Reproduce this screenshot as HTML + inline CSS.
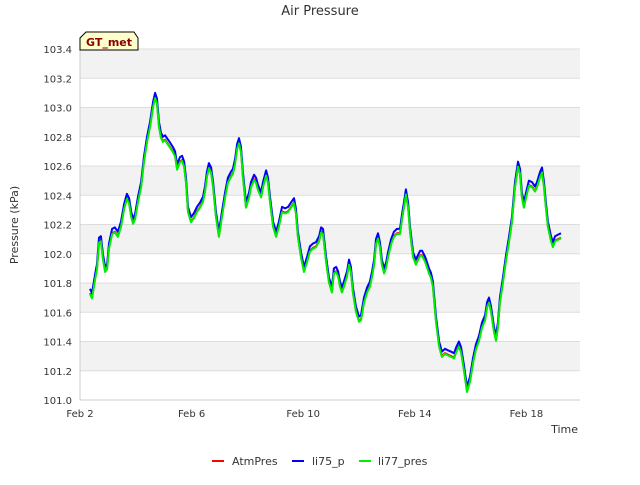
<!DOCTYPE html>
<html><head><meta charset="utf-8"><style>
body{margin:0;background:#fff;font-family:"Liberation Sans","DejaVu Sans",sans-serif;}
</style></head><body>
<svg width="640" height="480" viewBox="0 0 640 480" xmlns="http://www.w3.org/2000/svg" font-family="DejaVu Sans, Liberation Sans, sans-serif">
<text x="320" y="15" text-anchor="middle" font-size="13" fill="#333">Air Pressure</text>
<g id="bands"></g>
<g id="grid"></g>
<g id="yticks" font-size="10" fill="#333"></g>
<g id="xticks" font-size="10" fill="#333"></g>
<line x1="80" y1="49" x2="80" y2="400" stroke="#ccc"/>
<line x1="80" y1="400" x2="580" y2="400" stroke="#ccc"/>
<g id="series" fill="none" stroke-width="2" stroke-linejoin="round"></g>
<text x="18" y="225" transform="rotate(-90 18 225)" text-anchor="middle" font-size="11" fill="#333">Pressure (kPa)</text>
<text x="578" y="433" text-anchor="end" font-size="11" fill="#333">Time</text>
<g>
<path d="M80,38 L86,32 L134,32 L138,38 L138,50 L80,50 Z" fill="#ffffcc" stroke="#000" stroke-width="1"/>
<text x="109" y="46" text-anchor="middle" font-size="11" font-weight="bold" fill="#8b0000">GT_met</text>
</g>
<g font-size="11" fill="#333">
<g><line x1="212" y1="461" x2="224" y2="461" stroke="#ff0000" stroke-width="2"/><text x="232" y="465">AtmPres</text></g>
<g><line x1="292" y1="461" x2="304" y2="461" stroke="#0000ff" stroke-width="2"/><text x="312" y="465">li75_p</text></g>
<g><line x1="359" y1="461" x2="371" y2="461" stroke="#00ee00" stroke-width="2"/><text x="378" y="465">li77_pres</text></g>
</g>
</svg>
<script>
const xTickLabels=["Feb 2","Feb 6","Feb 10","Feb 14","Feb 18"];
const xTickDays=[0,4,8,12,16];
const yTickValues=[101.0,101.2,101.4,101.6,101.8,102.0,102.2,102.4,102.6,102.8,103.0,103.2,103.4];
const days=[0.36,0.43,0.54,0.61,0.68,0.75,0.82,0.90,0.97,1.04,1.15,1.25,1.36,1.47,1.58,1.68,1.76,1.83,1.90,1.97,2.08,2.19,2.29,2.40,2.51,2.62,2.69,2.76,2.83,2.90,2.97,3.05,3.12,3.23,3.33,3.41,3.48,3.58,3.66,3.73,3.80,3.87,3.98,4.09,4.19,4.30,4.41,4.48,4.55,4.62,4.70,4.77,4.87,4.98,5.09,5.20,5.30,5.41,5.48,5.56,5.63,5.70,5.77,5.84,5.95,6.06,6.13,6.24,6.31,6.38,6.49,6.56,6.67,6.74,6.81,6.92,7.03,7.13,7.24,7.35,7.46,7.56,7.67,7.74,7.81,7.92,8.03,8.14,8.24,8.35,8.46,8.57,8.64,8.71,8.82,8.92,9.03,9.10,9.18,9.25,9.32,9.39,9.46,9.57,9.64,9.71,9.78,9.89,10.00,10.07,10.18,10.29,10.39,10.47,10.54,10.61,10.68,10.75,10.82,10.90,10.97,11.04,11.15,11.25,11.36,11.47,11.54,11.61,11.68,11.76,11.83,11.94,12.04,12.11,12.19,12.26,12.37,12.44,12.51,12.58,12.65,12.76,12.87,12.97,13.08,13.19,13.30,13.41,13.48,13.58,13.66,13.76,13.87,13.98,14.09,14.19,14.30,14.41,14.52,14.59,14.66,14.73,14.84,14.91,14.98,15.05,15.16,15.27,15.38,15.48,15.59,15.70,15.77,15.84,15.91,15.99,16.09,16.20,16.31,16.38,16.49,16.56,16.63,16.70,16.77,16.88,16.95,17.03,17.13,17.24];
const atmPres=[101.73,101.70,101.83,101.90,102.08,102.09,101.97,101.88,101.90,102.04,102.14,102.15,102.12,102.19,102.31,102.38,102.35,102.26,102.21,102.24,102.36,102.46,102.63,102.77,102.87,103.01,103.07,103.03,102.87,102.80,102.77,102.78,102.76,102.73,102.70,102.67,102.58,102.63,102.64,102.60,102.49,102.29,102.22,102.25,102.29,102.32,102.36,102.43,102.53,102.59,102.56,102.46,102.26,102.12,102.26,102.39,102.49,102.53,102.55,102.62,102.72,102.76,102.70,102.53,102.32,102.39,102.46,102.51,102.49,102.44,102.39,102.46,102.54,102.49,102.36,102.19,102.12,102.19,102.29,102.28,102.29,102.32,102.35,102.28,102.12,101.98,101.88,101.95,102.02,102.04,102.05,102.09,102.15,102.14,101.95,101.81,101.74,101.87,101.88,101.85,101.78,101.74,101.78,101.85,101.93,101.88,101.74,101.61,101.54,101.55,101.67,101.74,101.78,101.85,101.93,102.07,102.11,102.05,101.93,101.87,101.91,101.98,102.07,102.12,102.14,102.14,102.24,102.32,102.41,102.32,102.15,101.98,101.93,101.96,101.99,101.99,101.95,101.91,101.87,101.84,101.78,101.54,101.37,101.30,101.32,101.31,101.30,101.29,101.33,101.37,101.33,101.21,101.06,101.13,101.26,101.35,101.41,101.50,101.55,101.64,101.67,101.61,101.47,101.41,101.50,101.67,101.81,101.96,102.09,102.22,102.46,102.60,102.55,102.39,102.32,102.39,102.47,102.46,102.43,102.46,102.53,102.56,102.46,102.32,102.19,102.09,102.05,102.09,102.10,102.11];
const li75Delta=0.03;
const li77Delta=-0.005;
const NS="http://www.w3.org/2000/svg";
const X0=80,PX_PER_DAY=27.9,Y0=400,PX_PER_KPA=146.25,YMIN=101.0;
function xScale(d){return X0+d*PX_PER_DAY;}
function yScale(p){return Y0-(p-YMIN)*PX_PER_KPA;}
const bands=document.getElementById('bands');
for(let i=0;i<yTickValues.length-1;i++){
  if(i%2===1){
    const r=document.createElementNS(NS,'rect');
    
    
    const yt=yScale(yTickValues[i+1]),yb=yScale(yTickValues[i]);
    r.setAttribute('x',80);r.setAttribute('width',500);r.setAttribute('y',yt);r.setAttribute('height',yb-yt);
    r.setAttribute('fill','#f2f2f2');bands.appendChild(r);
  }
}
const grid=document.getElementById('grid'),yt=document.getElementById('yticks'),xt=document.getElementById('xticks');
yTickValues.forEach(v=>{
  const y=yScale(v);
  const l=document.createElementNS(NS,'line');
  
  
  l.setAttribute('x1',80);l.setAttribute('x2',580);l.setAttribute('y1',y);l.setAttribute('y2',y);l.setAttribute('stroke','#dddddd');
  grid.appendChild(l);
  const t=document.createElementNS(NS,'text');
  
  
  t.setAttribute('x',72);t.setAttribute('y',y+4);t.setAttribute('text-anchor','end');t.textContent=v.toFixed(1);
  yt.appendChild(t);
});
xTickDays.forEach((d,i)=>{
  const t=document.createElementNS(NS,'text');
  
  
  t.setAttribute('x',xScale(d));t.setAttribute('y',417);t.setAttribute('text-anchor','middle');t.textContent=xTickLabels[i];
  xt.appendChild(t);
});
const seriesG=document.getElementById('series');
function draw(vals,color,name){
  const p=document.createElementNS(NS,'polyline');
  
  
  p.setAttribute('points',days.map((d,i)=>xScale(d).toFixed(1)+','+yScale(vals[i]).toFixed(1)).join(' '));
  p.setAttribute('stroke',color);seriesG.appendChild(p);
}
draw(atmPres,'#ff0000','atmpres-line');
draw(atmPres.map(v=>v+li75Delta),'#0000ff','li75-p-line');
draw(atmPres.map(v=>v+li77Delta),'#00ee00','li77-pres-line');
</script>
</body></html>
